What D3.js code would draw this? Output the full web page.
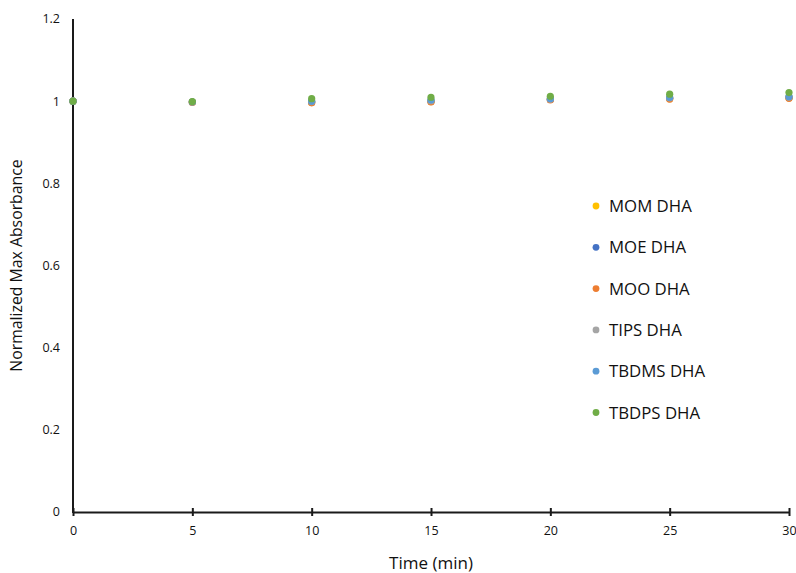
<!DOCTYPE html>
<html>
<head>
<meta charset="utf-8">
<script src="https://cdn.jsdelivr.net/npm/d3@7"></script>
<style>
  html, body { margin: 0; padding: 0; background: #fff; }
  text { font-family: "Open Sans", Lato, "Liberation Sans", sans-serif; fill: #111; }
</style>
</head>
<body>
<svg id="chart" width="796" height="573"></svg>
<script>
// Sampling times (min)
const times = [0, 5, 10, 15, 20, 25, 30];
const xTicks = [0, 5, 10, 15, 20, 25, 30];
const yTicks = [0, 0.2, 0.4, 0.6, 0.8, 1, 1.2];

// Normalized max absorbance per protecting group
const seriesNames = ["MOM DHA", "MOE DHA", "MOO DHA", "TIPS DHA", "TBDMS DHA", "TBDPS DHA"];
const seriesColors = ["#FFC000", "#4472C4", "#ED7D31", "#A5A5A5", "#5B9BD5", "#70AD47"];
const momValues   = [1, 0.998, 0.997, 0.999, 1.004, 1.006, 1.008];
const moeValues   = [1, 0.998, 0.998, 1.000, 1.004, 1.007, 1.009];
const mooValues   = [1, 0.997, 0.996, 0.998, 1.003, 1.005, 1.007];
const tipsValues  = [1, 0.998, 0.999, 1.001, 1.005, 1.008, 1.010];
const tbdmsValues = [1, 0.998, 1.000, 1.003, 1.006, 1.009, 1.011];
const tbdpsValues = [1, 0.999, 1.006, 1.009, 1.012, 1.017, 1.021];
const seriesValues = [momValues, moeValues, mooValues, tipsValues, tbdmsValues, tbdpsValues];

const svg = d3.select("#chart");
const x = d3.scaleLinear().domain([0, 30]).range([73, 789]);
const y = d3.scaleLinear().domain([0, 1.2]).range([512, 19]);

// Y axis: line only, labels to the left
svg.append("line")
  .attr("x1", x(0)).attr("x2", x(0))
  .attr("y1", y(1.2)).attr("y2", y(0) + 1)
  .attr("stroke", "#1a1a1a").attr("stroke-width", 2);
svg.selectAll(".ytl").data(yTicks).enter().append("text")
  .attr("x", 60).attr("y", d => y(d))
  .attr("dy", "0.35em").attr("text-anchor", "end")
  .attr("font-size", 12.5)
  .text(d => d3.format("~g")(d));

// X axis with crossing tick marks
const xAxis = d3.axisBottom(x).tickValues(xTicks).tickSize(0).tickPadding(14);
const gx = svg.append("g").attr("transform", `translate(0,${y(0)})`).call(xAxis);
gx.select(".domain").attr("stroke", "#1a1a1a").attr("stroke-width", 2);
gx.selectAll(".tick").append("line")
  .attr("y1", -4).attr("y2", 4)
  .attr("stroke", "#1a1a1a").attr("stroke-width", 2);
gx.selectAll(".tick text")
  .attr("font-size", 12.5)
  .attr("font-family", "'Open Sans', Lato, sans-serif")
  .attr("fill", "#111");

// Axis titles
svg.append("text")
  .attr("x", x(15)).attr("y", 569)
  .attr("text-anchor", "middle").attr("font-size", 17)
  .text("Time (min)");
svg.append("text")
  .attr("transform", `translate(22,${(y(0) + y(1.2)) / 2}) rotate(-90)`)
  .attr("text-anchor", "middle").attr("font-size", 15.8)
  .text("Normalized Max Absorbance");

// Scatter points, one group per series
seriesValues.forEach((vals, i) => {
  svg.append("g").selectAll("circle")
    .data(vals.map((v, j) => ({ t: times[j], v })))
    .enter().append("circle")
    .attr("cx", d => x(d.t)).attr("cy", d => y(d.v))
    .attr("r", 3.6)
    .attr("fill", seriesColors[i]);
});

// Legend
const legend = svg.append("g").attr("transform", "translate(596,206)");
seriesNames.forEach((name, i) => {
  const row = legend.append("g").attr("transform", `translate(0,${i * 41.3})`);
  row.append("circle").attr("r", 3.4).attr("fill", seriesColors[i]);
  row.append("text").attr("x", 13).attr("dy", "0.36em")
    .attr("font-size", 16.8).text(name);
});
</script>
</body>
</html>
